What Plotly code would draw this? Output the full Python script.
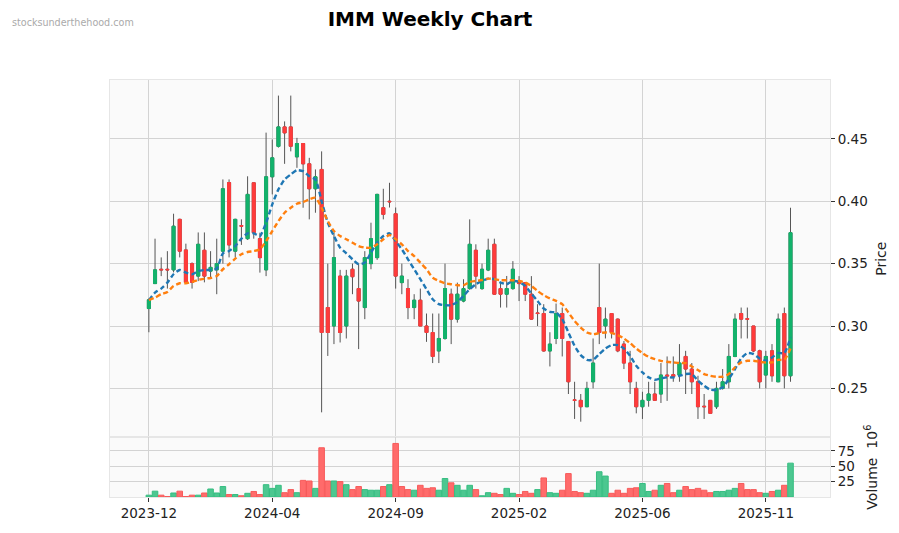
import pandas as pd
import plotly.graph_objects as go

# ---------------- data ----------------
dates = pd.date_range("2023-12-11", periods=105, freq="7D")

opens = [0.314, 0.334, 0.3455, 0.3455, 0.345, 0.3855, 0.361, 0.350, 0.340, 0.3607,
         0.344, 0.345, 0.360, 0.415, 0.360, 0.3805, 0.370, 0.4148, 0.370, 0.345,
         0.4196, 0.444, 0.4596, 0.4596, 0.4356, 0.4463, 0.430, 0.410, 0.4255, 0.3148,
         0.300, 0.340, 0.300, 0.3455, 0.330, 0.3148, 0.350, 0.3548, 0.3948, 0.4000,
         0.390, 0.3348, 0.330, 0.3148, 0.3207, 0.300, 0.2948, 0.280, 0.290, 0.3255,
         0.3055, 0.320, 0.330, 0.3607, 0.330, 0.3449, 0.3655, 0.330, 0.3255, 0.330,
         0.336, 0.3348, 0.3255, 0.3105, 0.310, 0.280, 0.290, 0.310, 0.2876, 0.2408,
         0.2404, 0.2353, 0.2553, 0.3148, 0.3001, 0.310, 0.3055, 0.2855, 0.2703, 0.250,
         0.2353, 0.2404, 0.2455, 0.2455, 0.2607, 0.2610, 0.2607, 0.2756, 0.2655, 0.2553,
         0.2357, 0.2404, 0.2353, 0.250, 0.2553, 0.2756, 0.310, 0.3058, 0.300, 0.2801,
         0.2607, 0.2801, 0.2553, 0.310, 0.2601]
highs = [0.322, 0.370, 0.355, 0.360, 0.390, 0.386, 0.366, 0.351, 0.375, 0.375,
         0.360, 0.370, 0.4175, 0.4175, 0.386, 0.3855, 0.420, 0.415, 0.3748, 0.455,
         0.4495, 0.4847, 0.464, 0.4847, 0.4508, 0.4463, 0.4348, 0.4255, 0.440, 0.350,
         0.3748, 0.345, 0.345, 0.350, 0.350, 0.360, 0.3828, 0.406, 0.410, 0.4148,
         0.395, 0.350, 0.3375, 0.3255, 0.330, 0.310, 0.310, 0.310, 0.350, 0.330,
         0.3348, 0.3375, 0.3855, 0.3655, 0.350, 0.370, 0.370, 0.3348, 0.3401, 0.352,
         0.340, 0.335, 0.340, 0.3175, 0.3175, 0.295, 0.318, 0.3148, 0.288, 0.2553,
         0.2455, 0.2553, 0.290, 0.350, 0.3148, 0.310, 0.306, 0.288, 0.2801, 0.2553,
         0.2473, 0.2553, 0.2553, 0.2703, 0.2756, 0.2756, 0.2855, 0.2801, 0.2703, 0.2601,
         0.2455, 0.2404, 0.2553, 0.2655, 0.2855, 0.310, 0.3148, 0.3148, 0.300, 0.281,
         0.2801, 0.2855, 0.310, 0.3148, 0.3948]
lows = [0.295, 0.334, 0.340, 0.330, 0.343, 0.355, 0.334, 0.330, 0.336, 0.335,
        0.338, 0.3255, 0.350, 0.355, 0.355, 0.365, 0.369, 0.370, 0.3428, 0.340,
        0.4055, 0.443, 0.430, 0.440, 0.4268, 0.3948, 0.3855, 0.3908, 0.2308, 0.276,
        0.2855, 0.2868, 0.290, 0.3255, 0.2815, 0.3055, 0.3455, 0.353, 0.3855, 0.395,
        0.330, 0.3255, 0.3055, 0.3055, 0.300, 0.2873, 0.2703, 0.2703, 0.289, 0.2855,
        0.3027, 0.319, 0.329, 0.330, 0.329, 0.344, 0.325, 0.3148, 0.3148, 0.329,
        0.320, 0.320, 0.305, 0.300, 0.2795, 0.2676, 0.2855, 0.2756, 0.2455, 0.2255,
        0.2233, 0.235, 0.250, 0.2855, 0.290, 0.290, 0.279, 0.2655, 0.2455, 0.230,
        0.2255, 0.2353, 0.240, 0.2383, 0.240, 0.2553, 0.2553, 0.2455, 0.2455, 0.2255,
        0.2255, 0.230, 0.2335, 0.249, 0.250, 0.275, 0.290, 0.290, 0.279, 0.250,
        0.250, 0.2553, 0.255, 0.250, 0.2553]
closes = [0.321, 0.345, 0.345, 0.345, 0.380, 0.360, 0.335, 0.335, 0.3655, 0.340,
          0.347, 0.350, 0.410, 0.365, 0.3855, 0.380, 0.4055, 0.3748, 0.3548, 0.4196,
          0.4348, 0.4596, 0.4548, 0.4441, 0.4463, 0.430, 0.410, 0.4196, 0.2948, 0.2948,
          0.3548, 0.2948, 0.340, 0.3395, 0.320, 0.3548, 0.370, 0.4055, 0.3895, 0.3996,
          0.340, 0.340, 0.3148, 0.3207, 0.300, 0.2948, 0.2756, 0.290, 0.330, 0.3055,
          0.3255, 0.330, 0.3655, 0.340, 0.3455, 0.3607, 0.3255, 0.3255, 0.330, 0.3455,
          0.334, 0.3255, 0.3055, 0.310, 0.280, 0.2855, 0.310, 0.290, 0.2553, 0.2404,
          0.2353, 0.250, 0.2703, 0.2948, 0.3055, 0.2948, 0.2801, 0.2703, 0.2553, 0.2353,
          0.2404, 0.2455, 0.2404, 0.2607, 0.2600, 0.2595, 0.2703, 0.2655, 0.2553, 0.2353,
          0.2353, 0.230, 0.250, 0.2553, 0.2756, 0.3055, 0.3055, 0.3055, 0.280, 0.2553,
          0.2756, 0.2601, 0.3055, 0.2601, 0.3748]
volume_m = [3, 9.5, 3, 0.8, 6.5, 9.5, 0.8, 3, 3, 6.5,
            13, 6.5, 17, 4, 4, 2, 6, 9, 4, 20,
            14, 19, 7, 12, 7, 27, 26, 14, 80, 26,
            26, 25, 20, 12, 17, 12, 11, 11, 17, 20,
            87, 17, 12, 11, 19, 14, 15, 11, 30, 23,
            19, 11, 19, 12, 2, 7, 6, 4, 14, 6,
            4, 9, 6, 12, 31, 7, 6, 11, 38, 9,
            7, 6, 11, 41, 34, 6, 11, 6, 14, 15,
            22, 9, 11, 19, 22, 7, 11, 17, 12, 14,
            11, 7, 9, 9, 11, 14, 22, 12, 12, 7,
            6, 9, 11, 19, 55]
ma_fast = [0.3207, 0.3268, 0.330, 0.3348, 0.3415, 0.3449, 0.3428, 0.3415, 0.3441, 0.3449,
           0.3449, 0.346, 0.3583, 0.3601, 0.3641, 0.370, 0.3743, 0.3743, 0.3721, 0.3828,
           0.3975, 0.4095, 0.4175, 0.4215, 0.4249, 0.4241, 0.4201, 0.4175, 0.4001, 0.3828,
           0.3721, 0.3628, 0.3583, 0.3535, 0.3495, 0.3508, 0.3588, 0.3668, 0.3721, 0.3743,
           0.3681, 0.3615, 0.3535, 0.3455, 0.3375, 0.3295, 0.3215, 0.3175, 0.3167, 0.3167,
           0.3193, 0.3241, 0.3295, 0.3335, 0.3361, 0.338, 0.3375, 0.3348, 0.3335, 0.3361,
           0.3353, 0.3321, 0.326, 0.320, 0.314, 0.3113, 0.3108, 0.3055, 0.2948, 0.2841,
           0.2767, 0.2729, 0.2729, 0.2775, 0.282, 0.2847, 0.2847, 0.282, 0.2761, 0.2681,
           0.2628, 0.2588, 0.2569, 0.258, 0.2588, 0.2588, 0.2601, 0.2615, 0.2615, 0.2561,
           0.2521, 0.2489, 0.2489, 0.2508, 0.2575, 0.2655, 0.274, 0.2783, 0.2775, 0.274,
           0.2721, 0.2748, 0.2783, 0.2783, 0.2908]
ma_slow = [0.3207, 0.3228, 0.3255, 0.3273, 0.3321, 0.3343, 0.3343, 0.3353, 0.3369, 0.338,
           0.3385, 0.3401, 0.3455, 0.3495, 0.354, 0.3575, 0.3593, 0.3601, 0.3615, 0.3681,
           0.3761, 0.3841, 0.3908, 0.3948, 0.398, 0.3993, 0.4015, 0.4028, 0.3948, 0.3841,
           0.3761, 0.3721, 0.3695, 0.3668, 0.3641, 0.3628, 0.3628, 0.3655, 0.3695, 0.3729,
           0.3695, 0.3655, 0.3601, 0.3561, 0.3508, 0.3455, 0.3388, 0.3361, 0.3343, 0.3335,
           0.3327, 0.3327, 0.3353, 0.3361, 0.3369, 0.338, 0.3375, 0.3367, 0.3367, 0.3367,
           0.3361, 0.3348, 0.3321, 0.3281, 0.3247, 0.3221, 0.3201, 0.3175, 0.3108, 0.3041,
           0.2988, 0.2948, 0.2935, 0.2943, 0.2948, 0.2943, 0.2927, 0.290, 0.2863, 0.282,
           0.2783, 0.2753, 0.2735, 0.2721, 0.2713, 0.2708, 0.2703, 0.2703, 0.2676, 0.2647,
           0.2615, 0.2601, 0.2593, 0.2593, 0.2615, 0.2668, 0.2708, 0.2721, 0.2721, 0.2713,
           0.2708, 0.2708, 0.2729, 0.2729, 0.282]

tick_index = [0, 20, 40, 60, 80, 100]
tick_labels = ["2023-12", "2024-04", "2024-09", "2025-02", "2025-06", "2025-11"]
price_ticks = [0.25, 0.30, 0.35, 0.40, 0.45]
volume_ticks = [25, 50, 75]

# ---------------- styling ----------------
UP, DOWN = "#12b26b", "#ff3b3b"
VUP, VDOWN = "#4cc790", "#ff6b6b"
VUP_E, VDOWN_E = "#35bd80", "#f75a5a"
WICK = "#555555"
GRID = "#d3d3d3"
FONT = "DejaVu Sans"

body_hi = [max(o, c) for o, c in zip(opens, closes)]
body_lo = [min(o, c) for o, c in zip(opens, closes)]
vol_up = [True] + [closes[i] > closes[i - 1] for i in range(1, len(closes))]
vcol = [VUP if u else VDOWN for u in vol_up]
vedge = [VUP_E if u else VDOWN_E for u in vol_up]
week_ms = 7 * 24 * 3600 * 1000

fig = go.Figure()
# wicks
fig.add_trace(go.Candlestick(
    x=dates, open=opens, high=highs, low=lows, close=closes,
    increasing=dict(line=dict(color=WICK, width=1), fillcolor=WICK),
    decreasing=dict(line=dict(color=WICK, width=1), fillcolor=WICK),
    whiskerwidth=0, hoverinfo="skip", xaxis="x", yaxis="y"))
# bodies
fig.add_trace(go.Candlestick(
    x=dates, open=opens, high=body_hi, low=body_lo, close=closes,
    increasing=dict(line=dict(color=UP, width=1), fillcolor=UP),
    decreasing=dict(line=dict(color=DOWN, width=1), fillcolor=DOWN),
    whiskerwidth=0, xaxis="x", yaxis="y"))
fig.add_trace(go.Scatter(x=dates, y=ma_fast, mode="lines",
                         line=dict(color="#1f77b4", width=2.4, dash="5px,3px", shape="spline", smoothing=0.6),
                         xaxis="x", yaxis="y"))
fig.add_trace(go.Scatter(x=dates, y=ma_slow, mode="lines",
                         line=dict(color="#ff7f0e", width=2.4, dash="5px,3px", shape="spline", smoothing=0.6),
                         xaxis="x", yaxis="y"))
fig.add_trace(go.Bar(x=dates, y=volume_m, width=[0.9 * week_ms] * len(dates),
                     marker=dict(color=vcol, line=dict(color=vedge, width=1)),
                     xaxis="x2", yaxis="y2"))

tickvals = [dates[i] for i in tick_index]
xr = [dates[0] - pd.Timedelta(weeks=6.3), dates[-1] + pd.Timedelta(weeks=6.4)]
vol_frac = 60 / 419

axis_common = dict(showgrid=True, gridcolor=GRID, gridwidth=1, zeroline=False,
                   showline=True, linecolor="#e6e6e6", mirror=True,
                   tickfont=dict(family=FONT, size=13.5, color="#222"))

fig.update_layout(
    width=899, height=533,
    margin=dict(l=110, r=69, t=80, b=34),
    paper_bgcolor="white", plot_bgcolor="#fafafa",
    showlegend=False, boxgap=0.3,
    font=dict(family=FONT, color="#222"),
    title=dict(text="<b>IMM Weekly Chart</b>", x=430 / 899, xanchor="center",
               y=1 - 19 / 533, yanchor="middle",
               font=dict(family=FONT, size=20, color="#000")),
    xaxis=dict(domain=[0, 1], anchor="y", range=xr, type="date",
               tickvals=tickvals, ticktext=tick_labels, showticklabels=False,
               ticks="", rangeslider=dict(visible=False), **axis_common),
    yaxis=dict(domain=[vol_frac, 1], anchor="x", side="right",
               range=[0.2108, 0.4972], tickvals=price_ticks,
               ticktext=["%.2f" % v for v in price_ticks],
               ticks="outside", ticklen=4, tickcolor="#333",
               title=dict(text="Price", standoff=9, font=dict(family=FONT, size=14, color="#222")),
               **axis_common),
    xaxis2=dict(domain=[0, 1], anchor="y2", range=xr, type="date", matches="x",
                tickvals=tickvals, ticktext=tick_labels,
                ticks="outside", ticklen=4, tickcolor="#333", **axis_common),
    yaxis2=dict(domain=[0, vol_frac], anchor="x2", side="right",
                range=[0, 97], tickvals=volume_ticks,
                ticktext=[str(v) for v in volume_ticks],
                ticks="outside", ticklen=4, tickcolor="#333",
                title=dict(text="Volume  10<sup>6</sup>", standoff=13,
                           font=dict(family=FONT, size=14, color="#222")),
                **axis_common),
    annotations=[dict(text="stocksunderthehood.com", xref="paper", yref="paper",
                      x=(10 - 110) / 720, y=(499 - 22) / 419, xanchor="left", yanchor="middle",
                      showarrow=False, font=dict(family=FONT, size=9.6, color="#aaaaaa"))],
)

fig.write_html("out.html", config={"displayModeBar": False},
               post_script="document.body.style.margin='0';document.body.style.overflow='hidden';")
